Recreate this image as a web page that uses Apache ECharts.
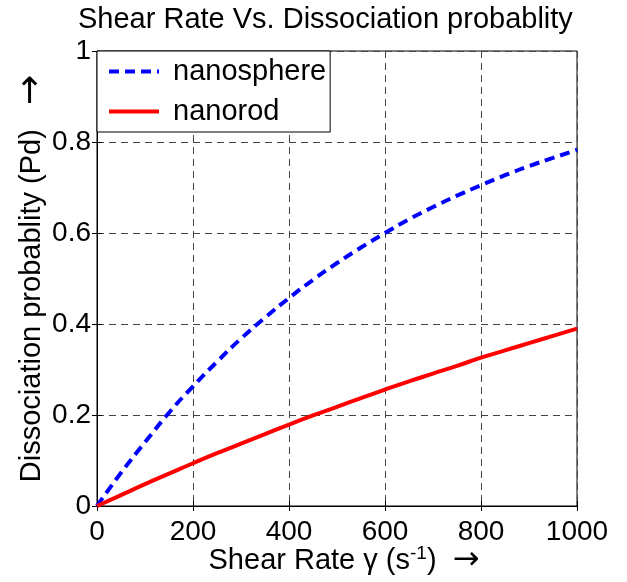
<!DOCTYPE html>
<html><head><meta charset="utf-8">
<script src="https://cdn.jsdelivr.net/npm/echarts@6/dist/echarts.min.js"></script>
<style>html,body{margin:0;padding:0;background:#fff}#c{width:627px;height:582px}</style>
</head><body><div id="c"></div>
<script>
const shearRate = [0,50,100,150,200,250,300,350,400,450,500,550,600,650,700,750,800,850,900,950,1000];
const nanosphere = [0,0.073,0.14,0.205,0.263,0.317,0.368,0.414,0.457,0.497,0.534,0.568,0.600,0.630,0.657,0.682,0.705,0.727,0.747,0.765,0.783];
const nanorod = [0,0.024,0.048,0.071,0.094,0.116,0.137,0.158,0.179,0.199,0.218,0.237,0.256,0.274,0.291,0.308,0.326,0.342,0.358,0.374,0.390];
const seriesNames = ['nanosphere','nanorod'];
const titleText = 'Shear Rate Vs. Dissociation probablity';

const FONT = 'Liberation Sans, Arial, sans-serif';
const AFONT = 'DejaVu Sans, sans-serif';
const chart = echarts.init(document.getElementById('c'));
const pairs = (ys) => shearRate.map((x,i)=>[x, ys[i]]);
const gridStyle = {show:true, lineStyle:{color:'#444', width:1, type:[7,5]}};
chart.setOption({
  animation:false,
  backgroundColor:'#fff',
  title:{text:titleText, left:73, top:0, textStyle:{fontFamily:FONT, fontSize:29, fontWeight:'normal', color:'#000'}},
  grid:{left:97, top:51, right:50, bottom:76, show:true, borderColor:'#000', borderWidth:1, backgroundColor:'transparent'},
  legend:{orient:'vertical', left:97, top:51, data:seriesNames, backgroundColor:'#fff', borderColor:'#000', borderWidth:1,
    padding:[6,4,6,10], itemGap:11, itemWidth:50, itemHeight:14,
    itemStyle:{opacity:0}, lineStyle:{width:4},
    textStyle:{fontFamily:FONT, fontSize:29, color:'#000', padding:[0,0,0,9]}},
  xAxis:[{type:'value', min:0, max:1000, interval:200,
    axisLine:{show:true, lineStyle:{color:'#000'}}, axisTick:{show:true, inside:true, length:5, lineStyle:{color:'#000'}},
    axisLabel:{fontFamily:FONT, fontSize:28, color:'#000', margin:12, formatter:(v)=>String(v)},
    splitLine:gridStyle,
    name:'{n|Shear Rate γ (s}{sup|-1}{n|)  }{a|→}', nameLocation:'middle', nameGap:38, nameMoveOverlap:false,
    nameTextStyle:{padding:[0,0,0,14], rich:{n:{fontFamily:FONT, fontSize:29, color:'#000'}, a:{fontFamily:AFONT, fontSize:32, color:'#000'},
      sup:{fontFamily:FONT, fontSize:19, color:'#000', verticalAlign:'top', padding:[0,0,14,0]}}}},
   {type:'value', position:'top', min:0, max:1000, interval:200, axisLine:{show:false}, axisLabel:{show:false},
    axisTick:{show:true, inside:true, length:5, lineStyle:{color:'#000'}}, splitLine:{show:false}}],
  yAxis:[{type:'value', min:0, max:1, interval:0.2,
    axisLine:{show:true, lineStyle:{color:'#000'}}, axisTick:{show:true, inside:true, length:5, lineStyle:{color:'#000'}},
    axisLabel:{fontFamily:FONT, fontSize:28, color:'#000', margin:6, formatter:(v)=>String(Math.round(v*10)/10)},
    splitLine:gridStyle,
    name:'{n|Dissociation probablity (Pd)   }{a|→}', nameLocation:'middle', nameGap:47, nameMoveOverlap:false,
    nameTextStyle:{rich:{n:{fontFamily:FONT, fontSize:29, color:'#000'}, a:{fontFamily:AFONT, fontSize:36, color:'#000'}}}},
   {type:'value', position:'right', min:0, max:1, interval:0.2, axisLine:{show:false}, axisLabel:{show:false},
    axisTick:{show:true, inside:true, length:5, lineStyle:{color:'#000'}}, splitLine:{show:false}}],
  series:[
    {name:seriesNames[0], type:'line', data:pairs(nanosphere), symbol:'none', smooth:true, z:3,
     itemStyle:{color:'#0000ff'}, lineStyle:{color:'#0000ff', width:4, type:[10,6]}},
    {name:seriesNames[1], type:'line', data:pairs(nanorod), symbol:'none', smooth:true, z:3,
     itemStyle:{color:'#ff0000'}, lineStyle:{color:'#ff0000', width:4, type:'solid'}}
  ]
});
</script></body></html>
